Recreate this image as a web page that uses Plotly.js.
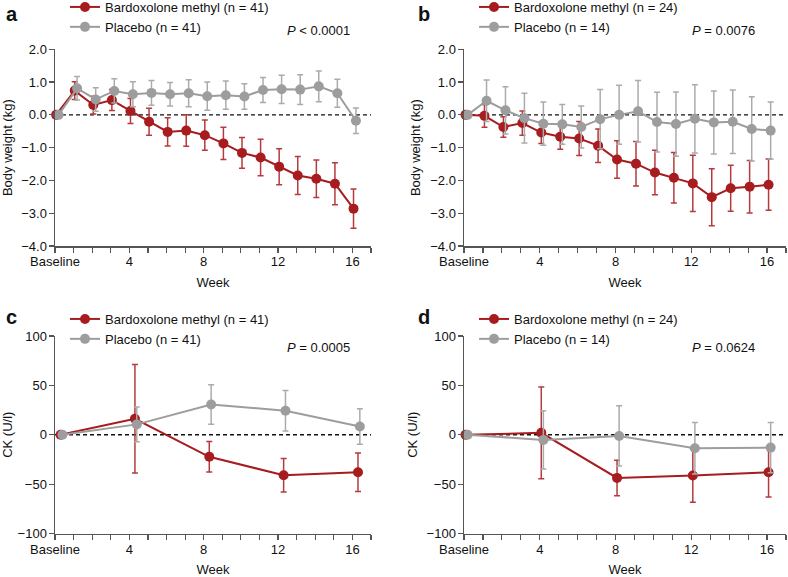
<!DOCTYPE html>
<html>
<head>
<meta charset="utf-8">
<script src="https://cdn.plot.ly/plotly-3.0.1.min.js"></script>
<style>html,body{margin:0;padding:0;background:#fff}#chart{width:788px;height:577px}</style>
</head>
<body>
<div id="chart"></div>
<script>
// ---------- data ----------
const weeks = [0,1,2,3,4,5,6,7,8,9,10,11,12,13,14,15,16];
const ckWeeks = [0,4,8,12,16];
const xTickVals = [0,1,2,3,4,5,6,7,8,9,10,11,12,13,14,15,16,17];
const xTickText = ['Baseline','','','','4','','','','8','','','','12','','','','16',''];

// Panel a: body weight, bardoxolone n=41 vs placebo n=41
const aBard = [0,0.74,0.30,0.45,0.12,-0.21,-0.52,-0.48,-0.62,-0.87,-1.16,-1.30,-1.58,-1.85,-1.95,-2.10,-2.86];
const aBardErr = [0,0.27,0.27,0.32,0.38,0.41,0.43,0.48,0.46,0.49,0.47,0.56,0.55,0.58,0.57,0.64,0.60];
const aPlac = [0,0.81,0.47,0.73,0.63,0.67,0.63,0.66,0.57,0.60,0.56,0.76,0.78,0.77,0.87,0.66,-0.18];
const aPlacErr = [0,0.36,0.36,0.37,0.38,0.38,0.36,0.41,0.43,0.43,0.39,0.38,0.43,0.45,0.47,0.43,0.39];

// Panel b: body weight, bardoxolone n=24 vs placebo n=14
const bBard = [0,-0.03,-0.37,-0.25,-0.54,-0.67,-0.72,-0.94,-1.36,-1.49,-1.76,-1.92,-2.09,-2.51,-2.24,-2.19,-2.13];
const bBardErr = [0,0.35,0.31,0.37,0.33,0.38,0.52,0.51,0.57,0.68,0.68,0.77,0.86,0.87,0.70,0.80,0.78];
const bPlac = [0,0.43,0.14,-0.10,-0.27,-0.29,-0.37,-0.13,0.00,0.11,-0.22,-0.28,-0.12,-0.23,-0.21,-0.43,-0.48];
const bPlacErr = [0,0.63,0.72,0.76,0.66,0.61,0.64,0.90,0.90,0.94,0.91,0.98,1.04,0.96,0.97,0.98,0.87];

// Panel c: CK, bardoxolone n=41 vs placebo n=41
const cBard = [0,16.2,-22.3,-41,-38];
const cBardErr = [0,55,15.5,17,19.5];
const cPlac = [0,10.5,30.7,24.3,8.4];
const cPlacErr = [0,17.5,20,20.5,18];

// Panel d: CK, bardoxolone n=24 vs placebo n=14
const dBard = [0,1.9,-43.7,-41.3,-38];
const dBardErr = [0,46.5,18,27,25];
const dPlac = [0,-5.2,-1.2,-13.7,-13];
const dPlacErr = [0,29.5,30.5,26,25.5];

const legendNames = {
  a: ['Bardoxolone methyl (n = 41)', 'Placebo (n = 41)'],
  b: ['Bardoxolone methyl (n = 24)', 'Placebo (n = 14)'],
  c: ['Bardoxolone methyl (n = 41)', 'Placebo (n = 41)'],
  d: ['Bardoxolone methyl (n = 24)', 'Placebo (n = 14)']
};
const pValues = ['&lt; 0.0001', '= 0.0076', '= 0.0005', '= 0.0624'];
const panelLetters = ['a','b','c','d'];

// ---------- style ----------
const RED = '#A61C1F', RED_ERR = '#B53A3D', GRAY = '#9D9D9D', GRAY_ERR = '#ABABAB';
const AXIS = '#555555';
const FONT = 'Liberation Sans, Arial, sans-serif';
const W = 788, H = 577;

function shift(arr, off){ return arr.map(v => v + off); }

function pair(xs, yB, eB, yP, eP, xa, ya, leg, names, offB, offP){
  const common = {type:'scatter', mode:'lines+markers', xaxis:xa, yaxis:ya, legend:leg, cliponaxis:false};
  return [
    Object.assign({}, common, {
      name:names[0], x:shift(xs, offB), y:yB,
      line:{color:RED, width:2}, marker:{color:RED, size:10},
      error_y:{type:'data', array:eB, visible:true, color:RED_ERR, thickness:1.5, width:3}
    }),
    Object.assign({}, common, {
      name:names[1], x:shift(xs, offP), y:yP,
      line:{color:GRAY, width:2}, marker:{color:GRAY, size:10},
      error_y:{type:'data', array:eP, visible:true, color:GRAY_ERR, thickness:1.5, width:3}
    })
  ];
}

const data = [].concat(
  pair(weeks, aBard, aBardErr, aPlac, aPlacErr, 'x', 'y', 'legend', legendNames.a, 0.06, 0.19),
  pair(weeks, bBard, bBardErr, bPlac, bPlacErr, 'x2', 'y2', 'legend2', legendNames.b, 0.08, 0.19),
  pair(ckWeeks, cBard, cBardErr, cPlac, cPlacErr, 'x3', 'y3', 'legend3', legendNames.c, 0.3, 0.4),
  pair(ckWeeks, dBard, dBardErr, dPlac, dPlacErr, 'x4', 'y4', 'legend4', legendNames.d, 0.08, 0.19)
);

// panel geometry in pixels
const colL = [[55,371],[464,786]];
const rowT = [[49.3,246],[336,533.5]];
function xdom(c){ return [colL[c][0]/W, colL[c][1]/W]; }
function ydom(r){ return [1 - rowT[r][1]/H, 1 - rowT[r][0]/H]; }

function xaxis(c, anchor){
  return {
    domain:xdom(c), anchor:anchor, range:[0,17], fixedrange:true,
    tickmode:'array', tickvals:xTickVals, ticktext:xTickText,
    ticks:'outside', ticklen:5, tickwidth:1.2, tickcolor:AXIS, ticklabelstandoff:-2,
    showline:true, linecolor:AXIS, linewidth:1.5, showgrid:false, zeroline:false,
    tickfont:{family:FONT, size:13, color:'#111'},
    title:{text:'Week', font:{family:FONT, size:13, color:'#111'}, standoff:10}
  };
}
function yaxis(r, anchor, kind){
  const bw = kind === 'bw';
  return {
    domain:ydom(r), anchor:anchor, range: bw ? [-4,2] : [-100,100], fixedrange:true,
    tickmode:'array', tickvals: bw ? [-4,-3,-2,-1,0,1,2] : [-100,-50,0,50,100],
    tickformat: bw ? '.1f' : '',
    ticks:'outside', ticklen:5, tickwidth:1.2, tickcolor:AXIS, ticklabelstandoff:-1,
    showline:true, linecolor:AXIS, linewidth:1.5, showgrid:false, zeroline:false,
    tickfont:{family:FONT, size:13, color:'#111'},
    title:{text: bw ? 'Body weight (kg)' : 'CK (U/l)', font:{family:FONT, size:13, color:'#111'}, standoff:6}
  };
}

function legendAt(px, py){
  return {x:px/W, y:1 - py/H, xanchor:'left', yanchor:'top',
    bgcolor:'rgba(0,0,0,0)', font:{family:FONT, size:13, color:'#111'},
    traceorder:'normal', itemwidth:30, tracegroupgap:0};
}

const annotations = [];
const pPos = [[352,30],[757,30],[352,347],[757,347]];
const letterPos = [[4,14],[416,14],[4,317],[416,317]];
for (let i = 0; i < 4; i++){
  annotations.push({xref:'paper', yref:'paper', x:pPos[i][0]/W, y:1 - pPos[i][1]/H,
    xanchor:'right', yanchor:'middle', showarrow:false,
    text:'<i>P</i> ' + pValues[i], font:{family:FONT, size:13, color:'#111'}});
  annotations.push({xref:'paper', yref:'paper', x:letterPos[i][0]/W, y:1 - letterPos[i][1]/H,
    xanchor:'left', yanchor:'middle', showarrow:false,
    text:'<b>' + panelLetters[i] + '</b>', font:{family:FONT, size:20, color:'#111'}});
}

const shapes = ['y','y2','y3','y4'].map((ya, i) => ({
  type:'line', xref:['x','x2','x3','x4'][i] + ' domain', x0:0, x1:1, yref:ya, y0:0, y1:0,
  line:{color:'#111', width:1.3, dash:'4px,3px'}, layer:'below'
}));

const layout = {
  width:W, height:H, margin:{l:0, r:0, t:0, b:0, autoexpand:false},
  paper_bgcolor:'#fff', plot_bgcolor:'rgba(0,0,0,0)',
  font:{family:FONT, size:13, color:'#111'},
  showlegend:true,
  xaxis:xaxis(0,'y'), yaxis:yaxis(0,'x','bw'),
  xaxis2:xaxis(1,'y2'), yaxis2:yaxis(0,'x2','bw'),
  xaxis3:xaxis(0,'y3'), yaxis3:yaxis(1,'x3','ck'),
  xaxis4:xaxis(1,'y4'), yaxis4:yaxis(1,'x4','ck'),
  legend:legendAt(65,-8), legend2:legendAt(474,-8),
  legend3:legendAt(65,304), legend4:legendAt(474,304),
  annotations:annotations, shapes:shapes
};

Plotly.newPlot('chart', data, layout, {displayModeBar:false, staticPlot:true});
</script>
</body>
</html>
